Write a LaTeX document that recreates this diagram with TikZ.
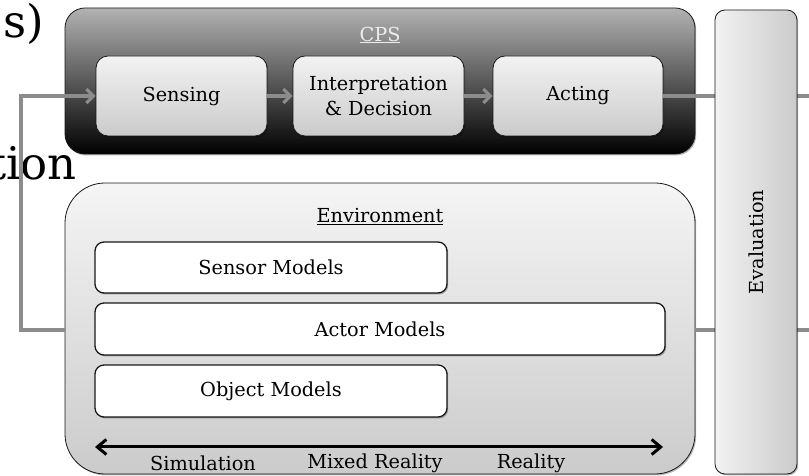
\documentclass[tikz,border=0pt]{standalone}
\usepackage{fontspec}
\setmainfont{DejaVu Serif}
\usetikzlibrary{arrows.meta,shadows,calc}
\definecolor{linegray}{HTML}{8C8C8C}
\definecolor{boxtop}{HTML}{F2F2F2}
\definecolor{boxbot}{HTML}{CBCBCB}
\definecolor{cpstop}{HTML}{B2B2B2}
\definecolor{cpsmid}{HTML}{6E6E6E}
\definecolor{labelgray}{HTML}{EDEDED}
\tikzset{
  soft shadow/.style={drop shadow={shadow xshift=1.2pt,shadow yshift=-1.5pt,opacity=.28,fill=black}},
  basebox/.style={rectangle,draw=black!90,line width=.8pt,inner sep=0pt,soft shadow},
  cpsbox/.style={basebox,rounded corners=20pt,top color=cpstop,middle color=cpsmid,bottom color=black},
  stagebox/.style={basebox,rounded corners=12pt,top color=boxtop,bottom color=boxbot,
    minimum width=171pt,minimum height=80pt,align=center,font=\fontsize{19.3}{25}\selectfont},
  envbox/.style={basebox,rounded corners=40pt,top color=boxtop!80!white,bottom color=boxbot},
  modelbox/.style={basebox,rounded corners=9pt,fill=white,line width=1.3pt,
    minimum height=52pt,font=\fontsize{19.3}{23}\selectfont},
  evalbox/.style={basebox,rounded corners=10pt,left color=boxtop,right color=boxbot},
  lbl/.style={inner sep=0pt,font=\fontsize{19.3}{23}\selectfont},
  bgtext/.style={inner sep=0pt,anchor=base east,font=\fontsize{45}{45}\selectfont},
  flow/.style={draw=linegray,line width=3.2pt},
  flowtip/.style={flow,-{Straight Barb[length=7pt,width=14pt]}},
  rangearrow/.style={draw=black,line width=3pt,{Straight Barb[length=9pt,width=15pt]}-{Straight Barb[length=9pt,width=15pt]}}
}
\begin{document}
\begin{tikzpicture}[x=1pt,y=1pt]
\useasboundingbox (0,0) rectangle (809,476);
\clip (0,0) rectangle (809,476);

% text of the underlying slide, cut by the frame
\node[bgtext] (slideA) at (44,438) {s)};
\node[bgtext] (slideB) at (77,296) {tion};

% CPS block with its three stages
\node[cpsbox,minimum width=630pt,minimum height=146pt] (cps) at (380,395) {};
\node[lbl,text=labelgray] (cpslbl) at (380,441) {\underline{CPS}};
\node[stagebox] (sens) at (181.5,380) {Sensing};
\node[stagebox] (interp) at (378.5,380) {Interpretation\\\& Decision};
\node[stagebox,minimum width=170pt] (act) at (578,380) {Acting};
\draw[flowtip] (sens.east) -- (interp.west);
\draw[flowtip] (interp.east) -- (act.west);

% environment block with its models
\node[envbox,minimum width=630pt,minimum height=291pt] (env) at (380,147.5) {};
\node[lbl] (envlbl) at (380,259) {\underline{Environment}};
\node[modelbox,minimum width=352pt,minimum height=51pt] (sensor) at (271,208.5) {Sensor Models};
\node[modelbox,minimum width=570pt] (actor) at (380,147) {Actor Models};
\node[modelbox,minimum width=352pt] (object) at (271,85) {Object Models};

% simulation to reality scale
\coordinate (scL) at (95,29);
\coordinate (scR) at (663,29);
\draw[rangearrow] (scL) -- (scR);
\node[lbl] (sim) at (203,13) {Simulation};
\node[lbl] (mixed) at (375,13) {Mixed Reality};
\node[lbl] (real) at (531,13) {Reality};

% feedback and output lines
\coordinate (fbBot) at (21,146);
\coordinate (outA) at (809,380);
\coordinate (outB) at (809,146);
\draw[flowtip] (env.west |- fbBot) -- (fbBot) |- (sens.west);
\draw[flow] (act.east) -- (outA);
\draw[flow] (env.east |- fbBot) -- (outB);

% evaluation column in front of the output lines
\node[evalbox,minimum width=82pt,minimum height=464pt] (eval) at (756,234) {};
\node[lbl,rotate=90] (evallbl) at (756,234) {Evaluation};
\end{tikzpicture}
\end{document}
